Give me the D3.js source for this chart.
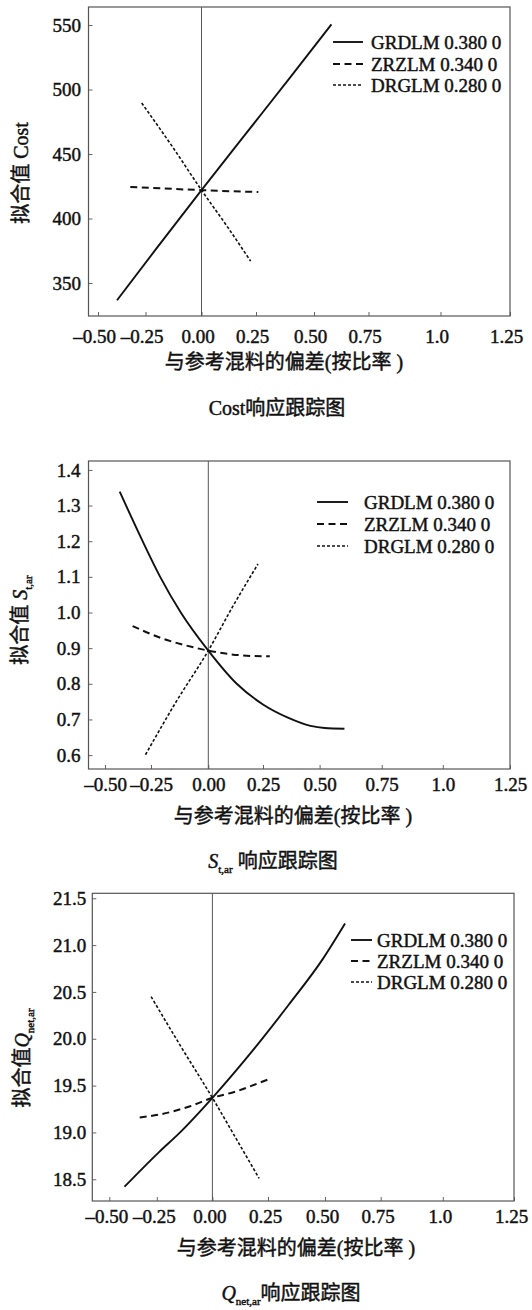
<!DOCTYPE html>
<html>
<head>
<meta charset="utf-8">
<title>响应跟踪图</title>
<script src="https://cdn.jsdelivr.net/npm/d3@7"></script>
<style>
  body { margin: 0; background: #fff; }
  svg text { stroke: #111; stroke-width: 0.45px; }
</style>
</head>
<body>
<svg id="chart" width="532" height="1310"></svg>
<script>
  // shared axis + legend data
  var xTicks = [-0.5, -0.25, 0, 0.25, 0.5, 0.75, 1.0, 1.25];
  var xTickLabels = ["\u20130.50", "\u20130.25", "0.00", "0.25", "0.50", "0.75", "1.0", "1.25"];
  var seriesNames = ["GRDLM 0.380 0", "ZRZLM 0.340 0", "DRGLM 0.280 0"];

  // Cost panel
  var costTicks = [350, 400, 450, 500, 550];
  var costGrdX = [-0.40, -0.20, 0, 0.20, 0.40, 0.58];
  var costGrdY = [336.6, 377, 422, 465, 510, 550.5];
  var costZrzX = [-0.33, 0, 0.26];
  var costZrzY = [424.5, 422, 420.5];
  var costDrgX = [-0.27, -0.13, 0, 0.12, 0.225];
  var costDrgY = [489.5, 455.7, 422, 393.3, 367];

  // S t,ar panel
  var sTicks = [0.6, 0.7, 0.8, 0.9, 1.0, 1.1, 1.2, 1.3, 1.4];
  var sGrdX = [-0.42, -0.30, -0.21, -0.12, 0, 0.13, 0.25, 0.36, 0.46, 0.52, 0.60];
  var sGrdY = [1.339, 1.205, 1.10, 1.00, 0.893, 0.80, 0.742, 0.705, 0.682, 0.676, 0.674];
  var sZrzX = [-0.35, -0.20, -0.10, 0, 0.10, 0.20, 0.28];
  var sZrzY = [0.962, 0.927, 0.908, 0.893, 0.883, 0.878, 0.877];
  var sDrgX = [-0.28, -0.14, 0, 0.11, 0.227];
  var sDrgY = [0.601, 0.75, 0.893, 1.015, 1.136];

  // Q net,ar panel
  var qTicks = [18.5, 19.0, 19.5, 20.0, 20.5, 21.0, 21.5];
  var qGrdX = [-0.42, -0.24, -0.15, 0, 0.19, 0.34, 0.49, 0.59];
  var qGrdY = [18.42, 18.79, 18.99, 19.37, 19.90, 20.36, 20.85, 21.23];
  var qZrzX = [-0.34, -0.24, -0.10, 0, 0.11, 0.20, 0.265];
  var qZrzY = [19.16, 19.19, 19.28, 19.37, 19.44, 19.52, 19.58];
  var qDrgX = [-0.28, -0.14, 0, 0.11, 0.21];
  var qDrgY = [20.45, 19.91, 19.37, 18.92, 18.51];

  var dashes = [null, "7,4.5", "3,2"];
  var widths = [1.9, 2, 1.6];
  var FONT = "'Liberation Serif', 'Noto Sans CJK SC', serif";

  var panels = [
    {
      left: 88.5, top: 7, bottom: 316,
      xPx: [98, 145.5, 201.5, 256, 314, 368.5, 440.5, 510],
      yDomain: [324.4, 564], yTicks: costTicks, fmt: d3.format("d"),
      series: [[costGrdX, costGrdY], [costZrzX, costZrzY], [costDrgX, costDrgY]],
      xPad: 14, xDx: -4, yPad: 7.5,
      yLabel: [{t: "拟合值 Cost"}], yLabelPos: [21, 173],
      xTitleY: 369, xTitleX: 284,
      title: [{t: "Cost响应跟踪图"}], titlePos: [277, 415],
      legend: {x0: 333, x1: 363, tx: 371, rows: [42, 64, 85]}
    },
    {
      left: 88.5, top: 461, bottom: 769,
      xPx: [105, 151, 208.3, 263, 319.6, 381.7, 442.8, 510],
      yDomain: [0.561, 1.425], yTicks: sTicks, fmt: d3.format(".1f"),
      series: [[sGrdX, sGrdY], [sZrzX, sZrzY], [sDrgX, sDrgY]],
      xPad: 9, xDx: 0, yPad: 8,
      yLabel: [{t: "拟合值 "}, {t: "S", i: true}, {t: "t,ar", sub: true}], yLabelPos: [20, 620],
      xTitleY: 823, xTitleX: 293,
      title: [{t: "S", i: true}, {t: "t,ar", sub: true}, {t: " 响应跟踪图"}], titlePos: [273, 868],
      legend: {x0: 317, x1: 348, tx: 364, rows: [502, 524, 546]}
    },
    {
      left: 92.3, top: 893.3, bottom: 1201,
      xPx: [109.3, 156.8, 212.4, 268, 325, 380.7, 442.8, 514],
      yDomain: [18.268, 21.553], yTicks: qTicks, fmt: d3.format(".1f"),
      series: [[qGrdX, qGrdY], [qZrzX, qZrzY], [qDrgX, qDrgY]],
      xPad: 8.5, xDx: -3, yPad: 6,
      yLabel: [{t: "拟合值"}, {t: "Q", i: true}, {t: "net,ar", sub: true}], yLabelPos: [22, 1058],
      xTitleY: 1255, xTitleX: 296,
      title: [{t: "Q", i: true}, {t: "net,ar", sub: true}, {t: "响应跟踪图"}], titlePos: [291, 1300],
      legend: {x0: 351, x1: 372, tx: 377, rows: [940, 961, 982]}
    }
  ];

  var svg = d3.select("#chart");

  // text with italic letters and subscripts
  function richText(sel, parts, size) {
    var prevSub = false;
    parts.forEach(function(p) {
      var ts = sel.append("tspan").text(p.t).style("font-family", FONT);
      if (p.i) ts.style("font-style", "italic");
      if (p.sub) {
        ts.attr("font-size", size * 0.55).attr("dy", size * 0.25);
      } else if (prevSub) {
        ts.attr("dy", -size * 0.25);
      }
      prevSub = !!p.sub;
    });
  }

  function drawPanel(p) {
    var g = svg.append("g");
    var right = p.xPx[p.xPx.length - 1];

    var x = d3.scaleLinear().domain(xTicks).range(p.xPx);
    var y = d3.scaleLinear().domain(p.yDomain).range([p.bottom, p.top]);

    // x axis
    var ax = g.append("g")
      .attr("transform", "translate(0," + p.bottom + ")")
      .call(d3.axisBottom(x).tickValues(xTicks)
        .tickFormat(function(d, i) { return xTickLabels[i]; })
        .tickSize(-4).tickPadding(p.xPad));
    ax.attr("font-size", 19).attr("font-family", null).style("color", "#666");
    ax.select(".domain").remove();
    ax.selectAll("text").attr("dx", p.xDx)
      .style("font-family", FONT).style("fill", "#111");

    // y axis
    var ay = g.append("g")
      .attr("transform", "translate(" + p.left + ",0)")
      .call(d3.axisLeft(y).tickValues(p.yTicks).tickFormat(p.fmt)
        .tickSize(-4).tickPadding(p.yPad));
    ay.attr("font-size", 19).attr("font-family", null).style("color", "#666");
    ay.select(".domain").remove();
    ay.selectAll("text").style("font-family", FONT).style("fill", "#111");

    // frame
    g.append("rect")
      .attr("x", p.left).attr("y", p.top)
      .attr("width", right - p.left).attr("height", p.bottom - p.top)
      .attr("fill", "none").attr("stroke", "#555").attr("stroke-width", 1.2);

    // reference line at zero deviation
    g.append("line")
      .attr("x1", x(0)).attr("x2", x(0))
      .attr("y1", p.top).attr("y2", p.bottom)
      .attr("stroke", "#555").attr("stroke-width", 1);

    var line = d3.line()
      .x(function(d) { return x(d[0]); })
      .y(function(d) { return y(d[1]); })
      .curve(d3.curveMonotoneX);

    p.series.forEach(function(s, i) {
      g.append("path")
        .datum(d3.zip(s[0], s[1]))
        .attr("d", line)
        .attr("fill", "none")
        .attr("stroke", "#111")
        .attr("stroke-width", widths[i])
        .attr("stroke-dasharray", dashes[i]);
    });

    // legend
    seriesNames.forEach(function(name, i) {
      var ry = p.legend.rows[i];
      g.append("line")
        .attr("x1", p.legend.x0).attr("x2", p.legend.x1)
        .attr("y1", ry).attr("y2", ry)
        .attr("stroke", "#111")
        .attr("stroke-width", widths[i])
        .attr("stroke-dasharray", dashes[i]);
      g.append("text")
        .attr("x", p.legend.tx).attr("y", ry + 6.5)
        .attr("font-size", 19)
        .style("font-family", FONT).style("fill", "#111")
        .text(name);
    });

    // y label
    var yl = g.append("text")
      .attr("transform", "translate(" + p.yLabelPos[0] + "," + p.yLabelPos[1] + ") rotate(-90)")
      .attr("text-anchor", "middle")
      .attr("dy", "0.35em")
      .attr("font-size", 20)
      .style("fill", "#111");
    richText(yl, p.yLabel, 20);

    // x title
    g.append("text")
      .attr("x", p.xTitleX).attr("y", p.xTitleY)
      .attr("text-anchor", "middle")
      .attr("font-size", 20)
      .style("font-family", FONT).style("fill", "#111")
      .text("与参考混料的偏差(按比率 )");

    // chart title
    var t = g.append("text")
      .attr("x", p.titlePos[0]).attr("y", p.titlePos[1])
      .attr("text-anchor", "middle")
      .attr("font-size", 20)
      .style("fill", "#111");
    richText(t, p.title, 20);
  }

  panels.forEach(drawPanel);
</script>
</body>
</html>
